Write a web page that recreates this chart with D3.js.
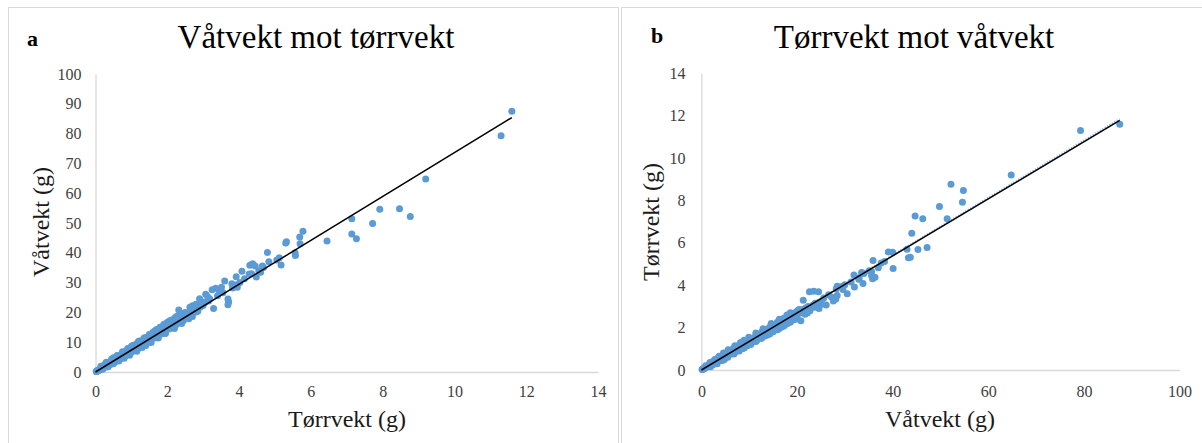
<!DOCTYPE html>
<html>
<head>
<meta charset="utf-8">
<script src="https://cdn.jsdelivr.net/npm/d3@7/dist/d3.min.js"></script>
<style>
  html, body { margin: 0; padding: 0; background: #fff; }
  svg { display: block; }
  svg text { font-family: "Liberation Serif", "Times New Roman", serif !important; }
</style>
</head>
<body>
<script>
// Tørrvekt (g) per prøve
const dryWeight = [
  0.02, 0.03, 0.04, 0.05, 0.05, 0.06, 0.07, 0.08, 0.09, 0.10,
  0.11, 0.12, 0.13, 0.14, 0.15, 0.16, 0.17, 0.18, 0.19, 0.20,
  0.21, 0.22, 0.23, 0.24, 0.25, 0.26, 0.27, 0.28, 0.29, 0.30,
  0.31, 0.32, 0.33, 0.34, 0.35, 0.36, 0.37, 0.38, 0.39, 0.40,
  0.41, 0.42, 0.43, 0.44, 0.45, 0.46, 0.47, 0.48, 0.50, 0.51,
  0.52, 0.54, 0.55, 0.56, 0.58, 0.59, 0.60, 0.62, 0.63, 0.65,
  0.66, 0.68, 0.70, 0.71, 0.73, 0.75, 0.76, 0.78, 0.80, 0.82,
  0.83, 0.85, 0.87, 0.88, 0.90, 0.92, 0.94, 0.95, 0.97, 0.99,
  1.00, 1.02, 1.04, 1.06, 1.08, 1.10, 1.12, 1.14, 1.16, 1.18,
  1.20, 1.22, 1.24, 1.25, 1.27, 1.29, 1.31, 1.33, 1.35, 1.37,
  1.39, 1.41, 1.43, 1.45, 1.47, 1.49, 1.51, 1.53, 1.55, 1.58,
  1.60, 1.62, 1.65, 1.67, 1.70, 1.72, 1.75, 1.77, 1.80, 1.83,
  1.85, 1.88, 1.90, 1.93, 1.96, 1.99, 2.02, 2.05, 2.08, 2.11,
  2.14, 2.17, 2.20, 2.23, 2.26, 2.30, 2.34, 2.38, 2.42, 2.46,
  2.50, 2.55, 2.60, 2.65, 2.70, 2.75, 2.80, 2.85, 2.92, 3.00,
  0.90, 0.70, 1.10, 1.30, 1.50, 1.70, 1.95, 2.10, 2.25, 1.35,
  1.55, 1.75, 2.00, 2.30, 2.15, 1.90, 1.25, 2.45, 2.58, 2.68,
  0.25, 0.35, 0.45, 0.55, 0.65, 0.75, 0.85, 0.95, 1.05, 1.15,
  1.25, 1.40, 1.50, 1.60, 1.80, 1.90, 2.05, 2.20, 2.35, 2.50,
  0.30, 0.40, 0.50, 0.60, 0.70, 0.80, 0.90, 1.00, 1.10, 1.20,
  1.45, 1.65, 1.85, 2.05, 2.25, 2.45, 2.65, 2.85, 0.55, 0.85,
  0.15, 0.30, 0.45, 0.60, 0.75, 0.90, 1.05, 1.20, 1.35, 1.50,
  1.65, 1.80, 1.95, 2.10, 2.25, 2.40, 1.00, 1.70, 2.00, 0.50,
  0.20, 0.35, 0.50, 0.65, 0.80, 0.95, 1.15, 1.30, 1.55, 1.75,
  1.95, 2.20, 2.40, 2.60, 1.40, 2.70,
  3.05, 3.15, 3.40, 3.55, 3.82, 4.02, 4.15, 4.35, 4.55, 4.68,
  5.05, 4.60, 2.40, 2.50, 2.32, 2.63, 2.70, 2.80, 2.90, 2.96,
  3.07, 3.12, 3.18, 3.25, 3.29, 3.35, 3.45, 3.51, 3.60, 3.69,
  3.69, 3.71, 3.80, 3.94, 3.95, 3.92, 4.08, 4.28, 4.48, 4.38,
  4.30, 4.45, 4.65, 4.83, 4.79, 5.12, 5.17, 5.57, 5.56, 5.30,
  5.32, 5.70, 5.69, 5.78, 6.45, 7.27, 7.14, 7.14, 7.72, 7.92,
  8.77, 8.47, 9.20, 11.30, 11.60
];

// Våtvekt (g) for de samme prøvene
const wetWeight = [
  0.15, 0.20, 0.30, 0.35, 0.40, 0.45, 0.50, 0.55, 0.70, 0.70,
  0.80, 0.85, 1.00, 1.00, 1.10, 1.20, 1.20, 1.35, 1.40, 1.50,
  1.50, 1.70, 1.60, 1.80, 1.90, 1.80, 2.10, 2.00, 2.20, 2.30,
  2.10, 2.50, 2.40, 2.60, 2.50, 2.80, 2.60, 2.90, 2.80, 3.10,
  2.90, 3.30, 3.00, 3.40, 3.20, 3.60, 3.30, 3.70, 3.60, 3.90,
  3.70, 4.10, 3.90, 4.30, 4.20, 4.60, 4.30, 4.80, 4.50, 5.00,
  4.80, 5.30, 5.10, 5.50, 5.20, 5.80, 5.50, 6.00, 5.80, 6.30,
  6.00, 6.60, 6.30, 6.80, 6.50, 7.10, 6.80, 7.30, 7.00, 7.60,
  7.30, 7.90, 7.50, 8.20, 7.80, 8.50, 8.10, 8.80, 8.40, 9.10,
  8.70, 9.40, 9.00, 9.70, 9.30, 10.00, 9.60, 10.30, 9.90, 10.60,
  10.20, 10.90, 10.50, 11.20, 10.80, 11.50, 11.10, 11.80, 11.40, 12.20,
  11.80, 12.60, 12.20, 13.00, 12.60, 13.40, 13.00, 13.80, 13.40, 14.20,
  13.80, 14.60, 14.20, 15.00, 14.60, 15.40, 15.00, 15.80, 15.40, 16.20,
  15.80, 16.70, 16.20, 17.20, 16.60, 17.60, 17.10, 18.20, 17.60, 18.70,
  18.20, 19.30, 18.80, 20.00, 19.50, 20.60, 20.10, 21.20, 21.80, 22.30,
  6.20, 4.80, 7.60, 9.00, 10.50, 12.00, 13.90, 15.00, 16.00, 10.90,
  12.30, 14.20, 16.00, 18.40, 17.30, 15.20, 10.30, 18.60, 19.00, 20.50,
  2.40, 3.10, 3.90, 4.70, 5.50, 6.30, 7.10, 7.90, 8.80, 9.60,
  10.40, 11.60, 12.40, 13.30, 14.90, 15.90, 17.00, 18.00, 19.00, 20.00,
  1.70, 2.40, 3.10, 3.80, 4.50, 5.20, 5.90, 6.60, 7.30, 8.00,
  9.90, 11.40, 12.80, 14.40, 15.90, 17.30, 18.90, 20.40, 3.40, 5.60,
  1.90, 3.30, 4.40, 5.50, 6.80, 7.90, 9.00, 10.30, 11.40, 12.60,
  13.80, 15.00, 16.20, 17.40, 18.60, 19.40, 8.60, 14.30, 16.60, 4.80,
  0.90, 1.80, 2.80, 3.70, 4.60, 5.60, 7.00, 8.20, 9.90, 11.40,
  12.90, 14.60, 16.30, 17.90, 8.90, 18.60,
  23.30, 23.80, 25.60, 26.60, 28.20, 30.00, 31.30, 33.00, 34.00, 35.10,
  37.60, 33.50, 19.70, 19.20, 20.80, 21.70, 22.20, 22.70, 24.60, 23.60,
  26.10, 25.30, 24.60, 27.60, 21.30, 28.10, 27.20, 28.40, 30.50, 24.50,
  22.60, 23.50, 29.60, 29.30, 28.40, 32.00, 33.80, 32.90, 31.90, 36.30,
  35.80, 35.60, 35.60, 37.00, 40.10, 38.30, 35.90, 39.10, 40.00, 43.30,
  43.70, 43.00, 45.30, 47.20, 44.00, 44.70, 46.30, 51.40, 49.80, 54.60,
  52.20, 54.80, 64.80, 79.30, 87.50
];

// Lineære trendlinjer: [stigning, konstantledd]
const trendWetOnDry = [7.36, 0];
const trendDryOnWet = [0.1346, 0];
const trendDryOnWetDotted = [0.1353, 0];

// Aksemerker
const ticksDryA = [0, 2, 4, 6, 8, 10, 12, 14];
const ticksWetA = [0, 10, 20, 30, 40, 50, 60, 70, 80, 90, 100];
const ticksWetB = [0, 20, 40, 60, 80, 100];
const ticksDryB = [0, 2, 4, 6, 8, 10, 12, 14];

const W = 1202, H = 443;
const BLUE = "#5b9bd5";
const GRID = "#d9d9d9";
const SERIF = "'Liberation Serif', 'Times New Roman', serif";

const svg = d3.select("body").append("svg")
  .attr("width", W).attr("height", H)
  .style("font-family", SERIF);

svg.append("rect").attr("width", W).attr("height", H).attr("fill", "#fff");

const points = dryWeight.map((d, i) => ({ dry: d, wet: wetWeight[i] }));

function drawPanel(cfg) {
  const g = svg.append("g");

  // panel frame
  g.append("rect")
    .attr("x", cfg.frame[0]).attr("y", cfg.frame[1])
    .attr("width", cfg.frame[2]).attr("height", cfg.frame[3])
    .attr("fill", "none").attr("stroke", GRID).attr("stroke-width", 1);

  const x = d3.scaleLinear().domain(cfg.xDomain).range(cfg.xRange);
  const y = d3.scaleLinear().domain(cfg.yDomain).range(cfg.yRange);

  // horizontal axis
  const xAxis = g.append("g")
    .attr("transform", `translate(0,${cfg.yRange[0]})`)
    .call(d3.axisBottom(x).tickValues(cfg.xTicks).tickSize(0).tickSizeOuter(0).tickPadding(cfg.xPad).tickFormat(d3.format("d")));
  xAxis.attr("font-family", null).attr("font-size", null);
  xAxis.select(".domain").attr("stroke", GRID).attr("stroke-width", 1.3);
  xAxis.selectAll("text").attr("font-size", 16).attr("fill", "#404040")
    .style("font-family", SERIF);

  // vertical axis
  const yAxis = g.append("g")
    .attr("transform", `translate(${cfg.xRange[0]},0)`)
    .call(d3.axisLeft(y).tickValues(cfg.yTicks).tickSize(0).tickSizeOuter(0).tickPadding(cfg.yPad).tickFormat(d3.format("d")));
  yAxis.attr("font-family", null).attr("font-size", null);
  yAxis.select(".domain").attr("stroke", GRID).attr("stroke-width", 1.3);
  yAxis.selectAll("text").attr("font-size", 16).attr("fill", "#404040")
    .style("font-family", SERIF);

  // scatter points
  g.append("g").selectAll("circle")
    .data(points)
    .join("circle")
    .attr("cx", d => x(cfg.xv(d)))
    .attr("cy", d => y(cfg.yv(d)))
    .attr("r", 3.5)
    .attr("fill", BLUE);

  // trend lines
  const xMax = d3.max(points, cfg.xv);
  const line = d3.line().x(d => x(d[0])).y(d => y(d[1]));
  if (cfg.dotted) {
    const [s2, c2] = cfg.dotted;
    g.append("path")
      .attr("d", line([[0, c2], [xMax, s2 * xMax + c2]]))
      .attr("fill", "none").attr("stroke", BLUE).attr("stroke-opacity", 0.75)
      .attr("stroke-width", 2.2).attr("stroke-dasharray", "1.2,1.6");
  }
  const [s, c] = cfg.trend;
  g.append("path")
    .attr("d", line([[0, c], [xMax, s * xMax + c]]))
    .attr("fill", "none").attr("stroke", "#000").attr("stroke-width", 1.5);

  // panel letter
  g.append("text")
    .attr("x", cfg.letterPos[0]).attr("y", cfg.letterPos[1])
    .attr("font-size", 22).attr("font-weight", "bold").attr("fill", "#000")
    .text(cfg.letter);

  // chart title
  g.append("text")
    .attr("x", cfg.titlePos[0]).attr("y", cfg.titlePos[1])
    .attr("text-anchor", "middle").attr("font-size", 33).attr("fill", "#000")
    .text(cfg.title);

  // axis titles
  g.append("text")
    .attr("x", cfg.xTitlePos[0]).attr("y", cfg.xTitlePos[1])
    .attr("text-anchor", "middle").attr("font-size", 24).attr("fill", "#1a1a1a")
    .text(cfg.xTitle);

  g.append("text")
    .attr("transform", `translate(${cfg.yTitlePos[0]},${cfg.yTitlePos[1]}) rotate(-90)`)
    .attr("text-anchor", "middle").attr("font-size", 24).attr("fill", "#1a1a1a")
    .text(cfg.yTitle);
}

drawPanel({
  frame: [8.5, 7.5, 610, 445],
  xDomain: [0, 14], xRange: [95.5, 598],
  yDomain: [0, 100], yRange: [372, 74],
  xTicks: ticksDryA, yTicks: ticksWetA,
  xPad: 14, yPad: 14,
  xv: d => d.dry, yv: d => d.wet,
  trend: trendWetOnDry,
  letter: "a", letterPos: [27, 46],
  title: "Våtvekt mot tørrvekt", titlePos: [316, 48],
  xTitle: "Tørrvekt (g)", xTitlePos: [347, 427],
  yTitle: "Våtvekt (g)", yTitlePos: [49, 222]
});

drawPanel({
  frame: [621.5, 7.5, 600, 445],
  xDomain: [0, 100], xRange: [701.4, 1179.5],
  yDomain: [0, 14], yRange: [370, 73.3],
  xTicks: ticksWetB, yTicks: ticksDryB,
  xPad: 16, yPad: 16,
  xv: d => d.wet, yv: d => d.dry,
  trend: trendDryOnWet, dotted: trendDryOnWetDotted,
  letter: "b", letterPos: [651, 43],
  title: "Tørrvekt mot våtvekt", titlePos: [914, 48],
  xTitle: "Våtvekt (g)", xTitlePos: [940, 427],
  yTitle: "Tørrvekt (g)", yTitlePos: [659, 222]
});
</script>
</body>
</html>
